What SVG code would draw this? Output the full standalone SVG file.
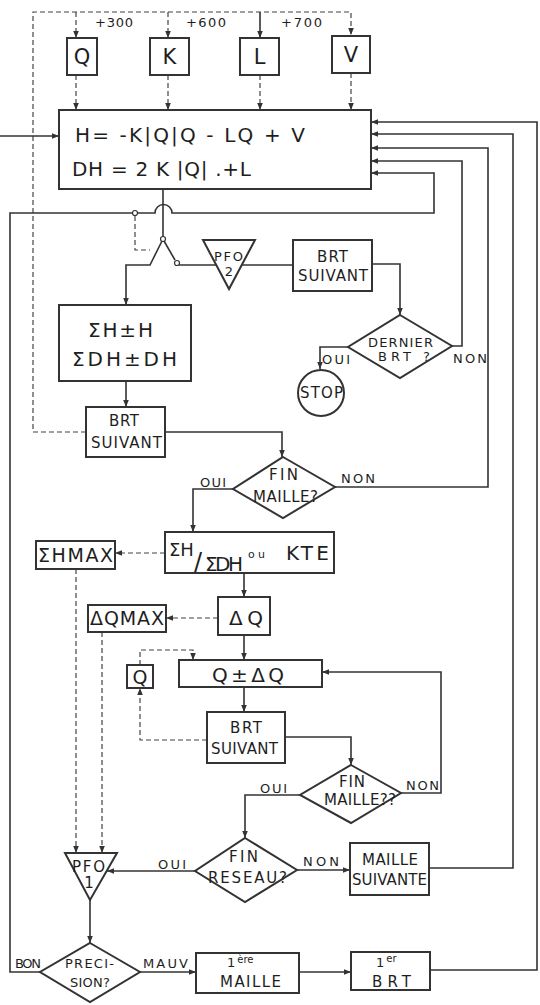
<svg xmlns="http://www.w3.org/2000/svg" width="540" height="1005" viewBox="0 0 540 1005">
<style>
.ln{fill:none;stroke:#333;stroke-width:1.6}
.ds{fill:none;stroke:#444;stroke-width:1.2;stroke-dasharray:5 3}
.bx{fill:#fff;stroke:#333;stroke-width:2}
.t{font-family:"DejaVu Sans","Liberation Sans",Arial,sans-serif;fill:#1e1e1e;font-size:15px}
.s{font-size:13px}
.b{font-size:20px}
.m{text-anchor:middle}
</style>
<defs>
<marker id="a" viewBox="0 0 10 10" refX="10" refY="5" markerWidth="7" markerHeight="7" markerUnits="userSpaceOnUse" orient="auto"><path d="M0,1 L10,5 L0,9 z" fill="#333"/></marker>
</defs>
<rect width="540" height="1005" fill="#fff"/>
<g id="connectors">
<path class="ds" d="M86,432 H33 V12 H351 V35" marker-end="url(#a)"/>
<path class="ds" d="M76,12 V38" marker-end="url(#a)"/>
<path class="ds" d="M168,12 V38" marker-end="url(#a)"/>
<path class="ln" d="M260,12 V38" marker-end="url(#a)"/>
<path class="ds" d="M76,75 V110" marker-end="url(#a)"/>
<path class="ds" d="M168,75 V110" marker-end="url(#a)"/>
<path class="ds" d="M260,75 V110" marker-end="url(#a)"/>
<path class="ds" d="M351,73 V110" marker-end="url(#a)"/>
<path class="ln" d="M0,136 H59" marker-end="url(#a)"/>
<path class="ln" d="M163,189 V237"/>
<circle cx="163" cy="239" r="2.5" fill="#fff" stroke="#333" stroke-width="1.2"/>
<path class="ln" d="M162,241 L150,265 H126 V305" marker-end="url(#a)"/>
<path class="ln" d="M164,241 L175,260"/>
<circle cx="177" cy="263" r="2.5" fill="#fff" stroke="#333" stroke-width="1.2"/>
<path class="ln" d="M179,265 H216"/>
<path class="ln" d="M242,265 H293"/>
<path class="ln" d="M372,264 H400 V315" marker-end="url(#a)"/>
<path class="ln" d="M348,347 H320 V369" marker-end="url(#a)"/>
<path class="ln" d="M452,346 H462 V161 H371" marker-end="url(#a)"/>
<path class="ln" d="M40,972 H10 V213 H155 A8.5,8.5 0 0 1 172,213 H434 V173 H371" marker-end="url(#a)"/>
<circle cx="135" cy="213" r="2.5" fill="#fff" stroke="#333" stroke-width="1.2"/>
<path class="ds" d="M135,216 V250 H150"/>
<path class="ln" d="M126,381 V407" marker-end="url(#a)"/>
<path class="ln" d="M165,432 H282 V457" marker-end="url(#a)"/>
<path class="ln" d="M335,487 H488 V148 H371" marker-end="url(#a)"/>
<path class="ln" d="M233,489 H193 V532" marker-end="url(#a)"/>
<path class="ds" d="M165,553 H115" marker-end="url(#a)"/>
<path class="ln" d="M244,573 V597" marker-end="url(#a)"/>
<path class="ds" d="M76,569 V853" marker-end="url(#a)"/>
<path class="ds" d="M218,618 H166" marker-end="url(#a)"/>
<path class="ln" d="M244,635 V660" marker-end="url(#a)"/>
<path class="ds" d="M102,632 V853" marker-end="url(#a)"/>
<path class="ln" d="M244,687 V712" marker-end="url(#a)"/>
<path class="ds" d="M140,665 V650 H193 V660" marker-end="url(#a)"/>
<path class="ds" d="M207,740 H140 V688" marker-end="url(#a)"/>
<path class="ln" d="M285,737 H351 V765" marker-end="url(#a)"/>
<path class="ln" d="M401,793 H441 V672 H322" marker-end="url(#a)"/>
<path class="ln" d="M300,795 H245 V838" marker-end="url(#a)"/>
<path class="ln" d="M195,871 H107" marker-end="url(#a)"/>
<path class="ln" d="M297,870 H350" marker-end="url(#a)"/>
<path class="ln" d="M429,868 H513 V134 H371" marker-end="url(#a)"/>
<path class="ln" d="M90,900 V943" marker-end="url(#a)"/>
<path class="ln" d="M140,972 H196" marker-end="url(#a)"/>
<path class="ln" d="M299,972 H351" marker-end="url(#a)"/>
<path class="ln" d="M430,970 H537 V122 H371" marker-end="url(#a)"/>
</g>
<g id="plus-labels">
<text class="t s" x="95" y="27" textLength="38">+300</text>
<text class="t s" x="186" y="27" textLength="40">+600</text>
<text class="t s" x="281" y="27" textLength="41">+700</text>
</g>
<g id="Q"><rect class="bx" x="67" y="38" width="30" height="37"/><text class="t m" x="82" y="64" style="font-size:21px">Q</text></g>
<g id="K"><rect class="bx" x="150" y="38" width="39" height="37"/><text class="t m" x="169.5" y="64" style="font-size:21px">K</text></g>
<g id="L"><rect class="bx" x="240" y="38" width="39" height="37"/><text class="t m" x="259.5" y="64" style="font-size:21px">L</text></g>
<g id="V"><rect class="bx" x="332" y="36" width="38" height="37"/><text class="t m" x="351" y="62" style="font-size:21px">V</text></g>
<g id="main"><rect class="bx" x="59" y="110" width="312" height="79"/>
<text class="t b" x="75" y="142" textLength="230">H= -K|Q|Q - LQ + V</text>
<text class="t b" x="72" y="176" textLength="179">DH = 2 K |Q| .+L</text></g>
<g id="pfo2"><path class="bx" d="M203,240 H255 L229,289 Z"/>
<text class="t s" x="214" y="261" textLength="29">PFO</text><text class="t s m" x="229" y="276">2</text></g>
<g id="brt1"><rect class="bx" x="293" y="240" width="79" height="51"/>
<text class="t" x="317" y="262" textLength="31">BRT</text><text class="t" x="298" y="281" textLength="70">SUIVANT</text></g>
<g id="dernier"><path class="bx" d="M400,315 L452,346 L400,378 L348,347 Z"/>
<text class="t s" x="368" y="347" textLength="65">DERNIER</text><text class="t s" x="378" y="361" textLength="52">BRT ?</text>
<text class="t s" x="322" y="364" textLength="28">OUI</text><text class="t s" x="453" y="363" textLength="34">NON</text></g>
<g id="stop"><circle class="bx" cx="321" cy="393" r="23"/><text class="t" x="300" y="398" textLength="43">STOP</text></g>
<g id="sumh"><rect class="bx" x="59" y="305" width="132" height="76"/>
<text class="t b" x="88" y="337" textLength="65">ΣH±H</text><text class="t b" x="72" y="366" textLength="105">ΣDH±DH</text></g>
<g id="brt2"><rect class="bx" x="86" y="407" width="79" height="50"/>
<text class="t" x="109" y="426" textLength="30">BRT</text><text class="t" x="91" y="448" textLength="71">SUIVANT</text></g>
<g id="finmaille1"><path class="bx" d="M283,457 L335,487 L283,518 L233,489 Z"/>
<text class="t" x="269" y="480" textLength="29">FIN</text><text class="t" x="253" y="502" textLength="65">MAILLE?</text>
<text class="t s" x="200" y="487" textLength="26">OUI</text><text class="t s" x="341" y="483" textLength="34">NON</text></g>
<g id="ratio"><rect class="bx" x="165" y="532" width="169" height="41"/>
<text class="t" x="169" y="556" style="font-size:18px">ΣH</text>
<text class="t" x="194" y="570" style="font-size:24px">/</text>
<text class="t b" x="205" y="571" textLength="38">ΣDH</text>
<text class="t" x="248" y="558" style="font-size:11px" textLength="17">ou</text>
<text class="t b" x="286" y="560" textLength="43">KTE</text></g>
<g id="shmax"><rect class="bx" x="36" y="541" width="79" height="28"/><text class="t" x="38" y="562" style="font-size:19px" textLength="75">ΣHMAX</text></g>
<g id="dq"><rect class="bx" x="218" y="597" width="52" height="38"/><text class="t b" x="229" y="625" textLength="34">ΔQ</text></g>
<g id="dqmax"><rect class="bx" x="88" y="605" width="78" height="27"/><text class="t" x="90" y="625" style="font-size:19px" textLength="74">ΔQMAX</text></g>
<g id="qdq"><rect class="bx" x="179" y="660" width="143" height="27"/><text class="t b" x="212" y="682" textLength="72">Q±ΔQ</text></g>
<g id="qsmall"><rect class="bx" x="127" y="665" width="26" height="23"/><text class="t m" x="140" y="684" style="font-size:19px">Q</text></g>
<g id="brt3"><rect class="bx" x="207" y="712" width="78" height="51"/>
<text class="t" x="230" y="733" textLength="32">BRT</text><text class="t" x="211" y="754" textLength="67">SUIVANT</text></g>
<g id="finmaille2"><path class="bx" d="M351,765 L401,793 L351,823 L300,795 Z"/>
<text class="t" x="339" y="787" textLength="26">FIN</text><text class="t" x="324" y="805" textLength="72">MAILLE??</text>
<text class="t s" x="260" y="793" textLength="27">OUI</text><text class="t s" x="406" y="790" textLength="33">NON</text></g>
<g id="finreseau"><path class="bx" d="M245,838 L297,870 L245,902 L195,871 Z"/>
<text class="t" x="229" y="862" textLength="29">FIN</text><text class="t" x="208" y="883" textLength="79">RESEAU?</text>
<text class="t s" x="158" y="869" textLength="28">OUI</text><text class="t s" x="303" y="866" textLength="36">NON</text></g>
<g id="maillesuivante"><rect class="bx" x="350" y="843" width="79" height="52"/>
<text class="t" x="362" y="865" textLength="56">MAILLE</text><text class="t" x="352" y="885" textLength="75">SUIVANTE</text></g>
<g id="pfo1"><path class="bx" d="M65,853 H117 L90,900 Z"/>
<text class="t" x="72" y="872" textLength="33">PFO</text><text class="t m" x="89" y="888">1</text></g>
<g id="precision"><path class="bx" d="M90,943 L140,972 L90,1002 L40,972 Z"/>
<text class="t s" x="65" y="968" textLength="49">PRECI-</text><text class="t s" x="70" y="987" textLength="40">SION?</text>
<text class="t s" x="15" y="968" textLength="26">BON</text><text class="t s" x="143" y="968" textLength="45">MAUV</text></g>
<g id="premmaille"><rect class="bx" x="196" y="953" width="103" height="40"/>
<text class="t" x="227" y="967" style="font-size:13px">1<tspan dx="2" dy="-4" style="font-size:10px">ère</tspan></text>
<text class="t" x="220" y="987" textLength="61">MAILLE</text></g>
<g id="prembrt"><rect class="bx" x="351" y="952" width="79" height="38"/>
<text class="t" x="376" y="967" style="font-size:13px">1<tspan dx="2" dy="-5" style="font-size:10px">er</tspan></text>
<text class="t" x="372" y="987" textLength="39">BRT</text></g>
</svg>
